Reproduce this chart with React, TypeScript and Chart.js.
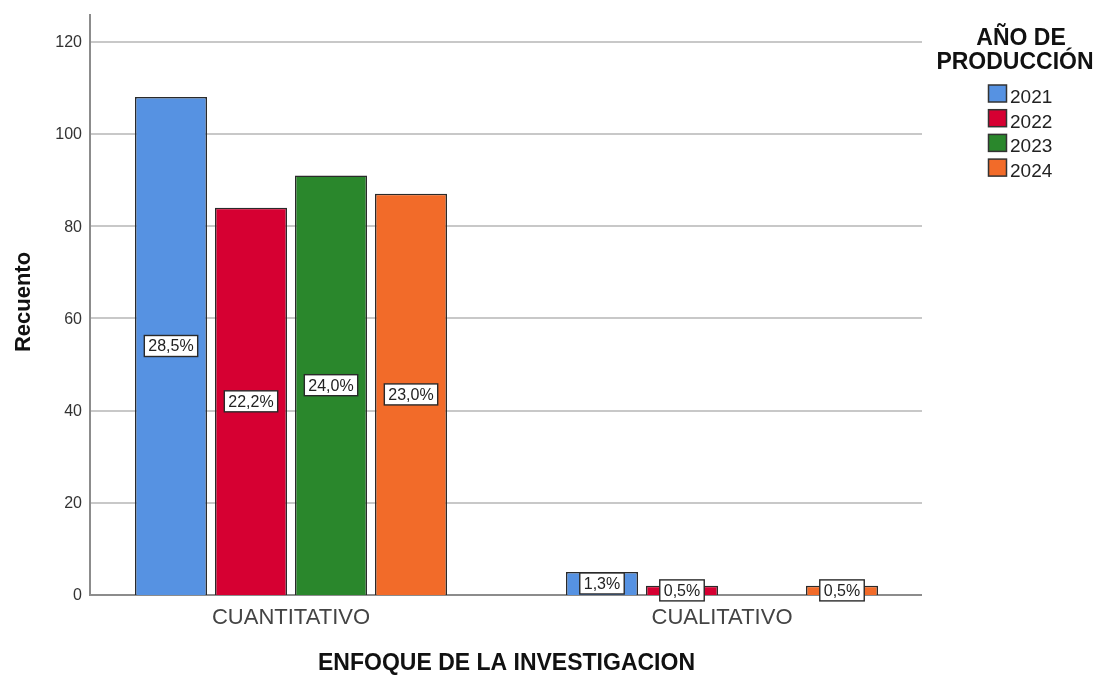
import React, { useEffect, useRef } from "react";
import { Chart, registerables } from "chart.js";

Chart.register(...registerables);

const FONT = '"Liberation Sans", Arial, Helvetica, sans-serif';

const categories = ["CUANTITATIVO", "CUALITATIVO"];
const years = ["2021", "2022", "2023", "2024"];
const counts2021 = [108, 5];
const counts2022 = [84, 2];
const counts2023 = [91, 0];
const counts2024 = [87, 2];
const yTicks = [0, 20, 40, 60, 80, 100, 120];
const yMax = 126;
const colors = ["#5692e2", "#d60032", "#2a872c", "#f26b29"];
const xTitle = "ENFOQUE DE LA INVESTIGACION";
const yTitle = "Recuento";
const legendTitle = ["AÑO DE", "PRODUCCIÓN"];

const seriesList = [counts2021, counts2022, counts2023, counts2024];
const total = seriesList.reduce((s, arr) => s + arr.reduce((a, b) => a + b, 0), 0);
const pctText = (v: number) => ((v / total) * 100).toFixed(1).replace(".", ",") + "%";

const decor = {
  id: "decor",
  beforeDatasetsDraw(chart: any) {
    const { ctx, chartArea } = chart;
    const y = chart.scales.y;
    const left = chartArea.left + 14.5;
    const right = chartArea.right - 15.5;
    const base = y.getPixelForValue(0);
    ctx.save();
    ctx.lineWidth = 2;
    ctx.strokeStyle = "#c8c8c8";
    yTicks.forEach((v) => {
      if (v === 0) return;
      const py = Math.round(y.getPixelForValue(v));
      ctx.beginPath();
      ctx.moveTo(left, py);
      ctx.lineTo(right, py);
      ctx.stroke();
    });
    ctx.strokeStyle = "#8c8c8c";
    ctx.beginPath();
    ctx.moveTo(left, chartArea.top);
    ctx.lineTo(left, base);
    ctx.lineTo(right, base);
    ctx.stroke();

    ctx.fillStyle = "#333";
    ctx.font = `16px ${FONT}`;
    ctx.textAlign = "right";
    ctx.textBaseline = "middle";
    yTicks.forEach((v) => {
      ctx.fillText(String(v), left - 8, y.getPixelForValue(v) + 1);
    });

    ctx.save();
    ctx.translate(23.5, 302);
    ctx.rotate(-Math.PI / 2);
    ctx.textAlign = "center";
    ctx.textBaseline = "middle";
    ctx.font = `bold 22px ${FONT}`;
    ctx.fillStyle = "#111";
    ctx.fillText(yTitle, 0, 0);
    ctx.restore();
    ctx.restore();
  },
  afterDatasetsDraw(chart: any) {
    const { ctx } = chart;
    ctx.save();
    ctx.font = `16px ${FONT}`;
    ctx.textAlign = "center";
    ctx.textBaseline = "middle";
    chart.data.datasets.forEach((ds: any, di: number) => {
      const meta = chart.getDatasetMeta(di);
      meta.data.forEach((el: any, i: number) => {
        const v = ds.data[i];
        if (!v) return;
        const cx = el.x;
        const cy = (el.y + el.base) / 2;
        const t = pctText(v);
        const w = ctx.measureText(t).width + 8;
        const h = 21;
        ctx.fillStyle = "#ffffff";
        ctx.fillRect(cx - w / 2, cy - h / 2, w, h);
        ctx.strokeStyle = "#2a2a2a";
        ctx.lineWidth = 1.4;
        ctx.strokeRect(cx - w / 2, cy - h / 2, w, h);
        ctx.fillStyle = "#222";
        ctx.fillText(t, cx, cy + 1);
      });
    });
    ctx.restore();
  },
  afterDraw(chart: any) {
    const { ctx } = chart;
    ctx.save();
    ctx.fillStyle = "#111";
    ctx.font = `bold 23px ${FONT}`;
    ctx.textAlign = "center";
    ctx.textBaseline = "alphabetic";
    ctx.fillText(legendTitle[0], 1021, 45);
    ctx.fillText(legendTitle[1], 1015, 69);
    ctx.font = `19px ${FONT}`;
    ctx.textAlign = "left";
    years.forEach((yr, i) => {
      const top = 85 + i * 24.7;
      ctx.fillStyle = colors[i];
      ctx.fillRect(988.5, top, 18, 17);
      ctx.strokeStyle = "#333";
      ctx.lineWidth = 1.5;
      ctx.strokeRect(988.5, top, 18, 17);
      ctx.fillStyle = "#222";
      ctx.fillText(yr, 1010, top + 18);
    });
    ctx.restore();
  },
};

export default function App() {
  const ref = useRef<HTMLCanvasElement | null>(null);
  useEffect(() => {
    document.body.style.margin = "0";
    if (!ref.current) return;
    const chart = new Chart(ref.current, {
      type: "bar",
      data: {
        labels: categories,
        datasets: seriesList.map((data, i) => ({
          label: years[i],
          data,
          backgroundColor: colors[i],
          borderColor: "#2a2a2a",
          borderWidth: 1.5,
          categoryPercentage: 0.7425,
          barPercentage: 0.9,
        })),
      },
      options: {
        responsive: false,
        animation: false,
        layout: { padding: { left: 75.5, right: 161.5, top: 14, bottom: 0 } },
        plugins: { legend: { display: false }, tooltip: { enabled: false } },
        scales: {
          y: { display: false, min: 0, max: yMax },
          x: {
            grid: { display: false, drawTicks: false },
            border: { display: false },
            ticks: { font: { family: FONT, size: 22 }, color: "#444", padding: 10 },
            title: {
              display: true,
              text: xTitle,
              color: "#111",
              font: { family: FONT, size: 23, weight: "bold", lineHeight: 1 },
              padding: { top: 10.6, bottom: 0 },
            },
          },
        },
      },
      plugins: [decor],
    });
    return () => chart.destroy();
  }, []);
  return (
    <div style={{ width: 1099, height: 675, background: "#fff" }}>
      <canvas ref={ref} width={1099} height={675} />
    </div>
  );
}
